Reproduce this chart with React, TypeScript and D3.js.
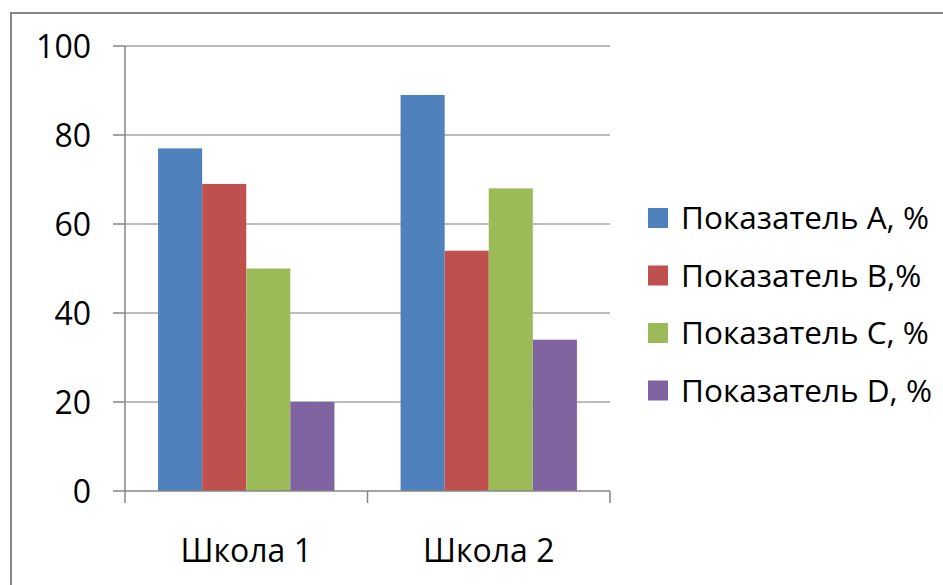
import React from "react";
import * as d3 from "d3";

const categories = ["Школа 1", "Школа 2"];
const seriesNames = ["Показатель А, %", "Показатель В,%", "Показатель С, %", "Показатель D, %"];
const seriesColors = ["#4F81BD", "#C0504D", "#9BBB59", "#8064A2"];
const valuesA = [77, 89];
const valuesB = [69, 54];
const valuesC = [50, 68];
const valuesD = [20, 34];
const seriesValues = [valuesA, valuesB, valuesC, valuesD];
const yTicks = [0, 20, 40, 60, 80, 100];

const W = 943;
const H = 585;
const plot = { left: 125, right: 610, top: 46, bottom: 491 };
const FONT = "'Open Sans', sans-serif";

export default function App() {
  const x = d3.scaleBand<string>().domain(categories).range([plot.left, plot.right]).paddingInner(0).paddingOuter(0);
  const y = d3.scaleLinear().domain([0, 100]).range([plot.bottom, plot.top]);
  const barW = x.bandwidth() / (seriesNames.length + 1.5);
  const offset = (x.bandwidth() - barW * seriesNames.length) / 2;

  return (
    <div style={{ position: "fixed", left: 0, top: 0 }}>
      <svg width={W} height={H} style={{ display: "block", background: "#fff" }}>
        <rect x={11} y={13} width={W + 20} height={H + 20} fill="#fff" stroke="#868686" strokeWidth={2} />
        {yTicks.map((t) => (
          <g key={t}>
            {t > 0 && (
              <line x1={plot.left} x2={plot.right} y1={y(t)} y2={y(t)} stroke="#A6A6A6" strokeWidth={1.5} />
            )}
            <line x1={plot.left - 12} x2={plot.left} y1={y(t)} y2={y(t)} stroke="#868686" strokeWidth={1.5} />
            <text x={91} y={y(t)} dy="0.36em" textAnchor="end" fontFamily={FONT} fontSize={32} fill="#000">
              {t}
            </text>
          </g>
        ))}
        {categories.map((c, ci) => (
          <g key={c}>
            {seriesValues.map((vals, si) => (
              <rect
                key={si}
                x={(x(c) as number) + offset + si * barW}
                y={y(vals[ci])}
                width={barW}
                height={y(0) - y(vals[ci])}
                fill={seriesColors[si]}
              />
            ))}
            <text
              x={(x(c) as number) + x.bandwidth() / 2}
              y={562}
              textAnchor="middle"
              fontFamily={FONT}
              fontSize={32}
              fill="#000"
            >
              {c}
            </text>
          </g>
        ))}
        <line x1={plot.left} x2={plot.left} y1={plot.top} y2={plot.bottom} stroke="#868686" strokeWidth={1.5} />
        <line x1={plot.left} x2={plot.right} y1={plot.bottom} y2={plot.bottom} stroke="#868686" strokeWidth={1.5} />
        {[...categories.map((c) => x(c) as number), plot.right].map((tx, i) => (
          <line key={i} x1={tx} x2={tx} y1={plot.bottom} y2={plot.bottom + 12} stroke="#868686" strokeWidth={1.5} />
        ))}
        {seriesNames.map((s, i) => (
          <g key={s} transform={`translate(648, ${218 + i * 57.5})`}>
            <rect x={0} y={-10} width={20} height={20} fill={seriesColors[i]} />
            <text x={33} y={0} dy="0.36em" fontFamily={FONT} fontSize={31.5} fill="#000">
              {s}
            </text>
          </g>
        ))}
      </svg>
    </div>
  );
}
